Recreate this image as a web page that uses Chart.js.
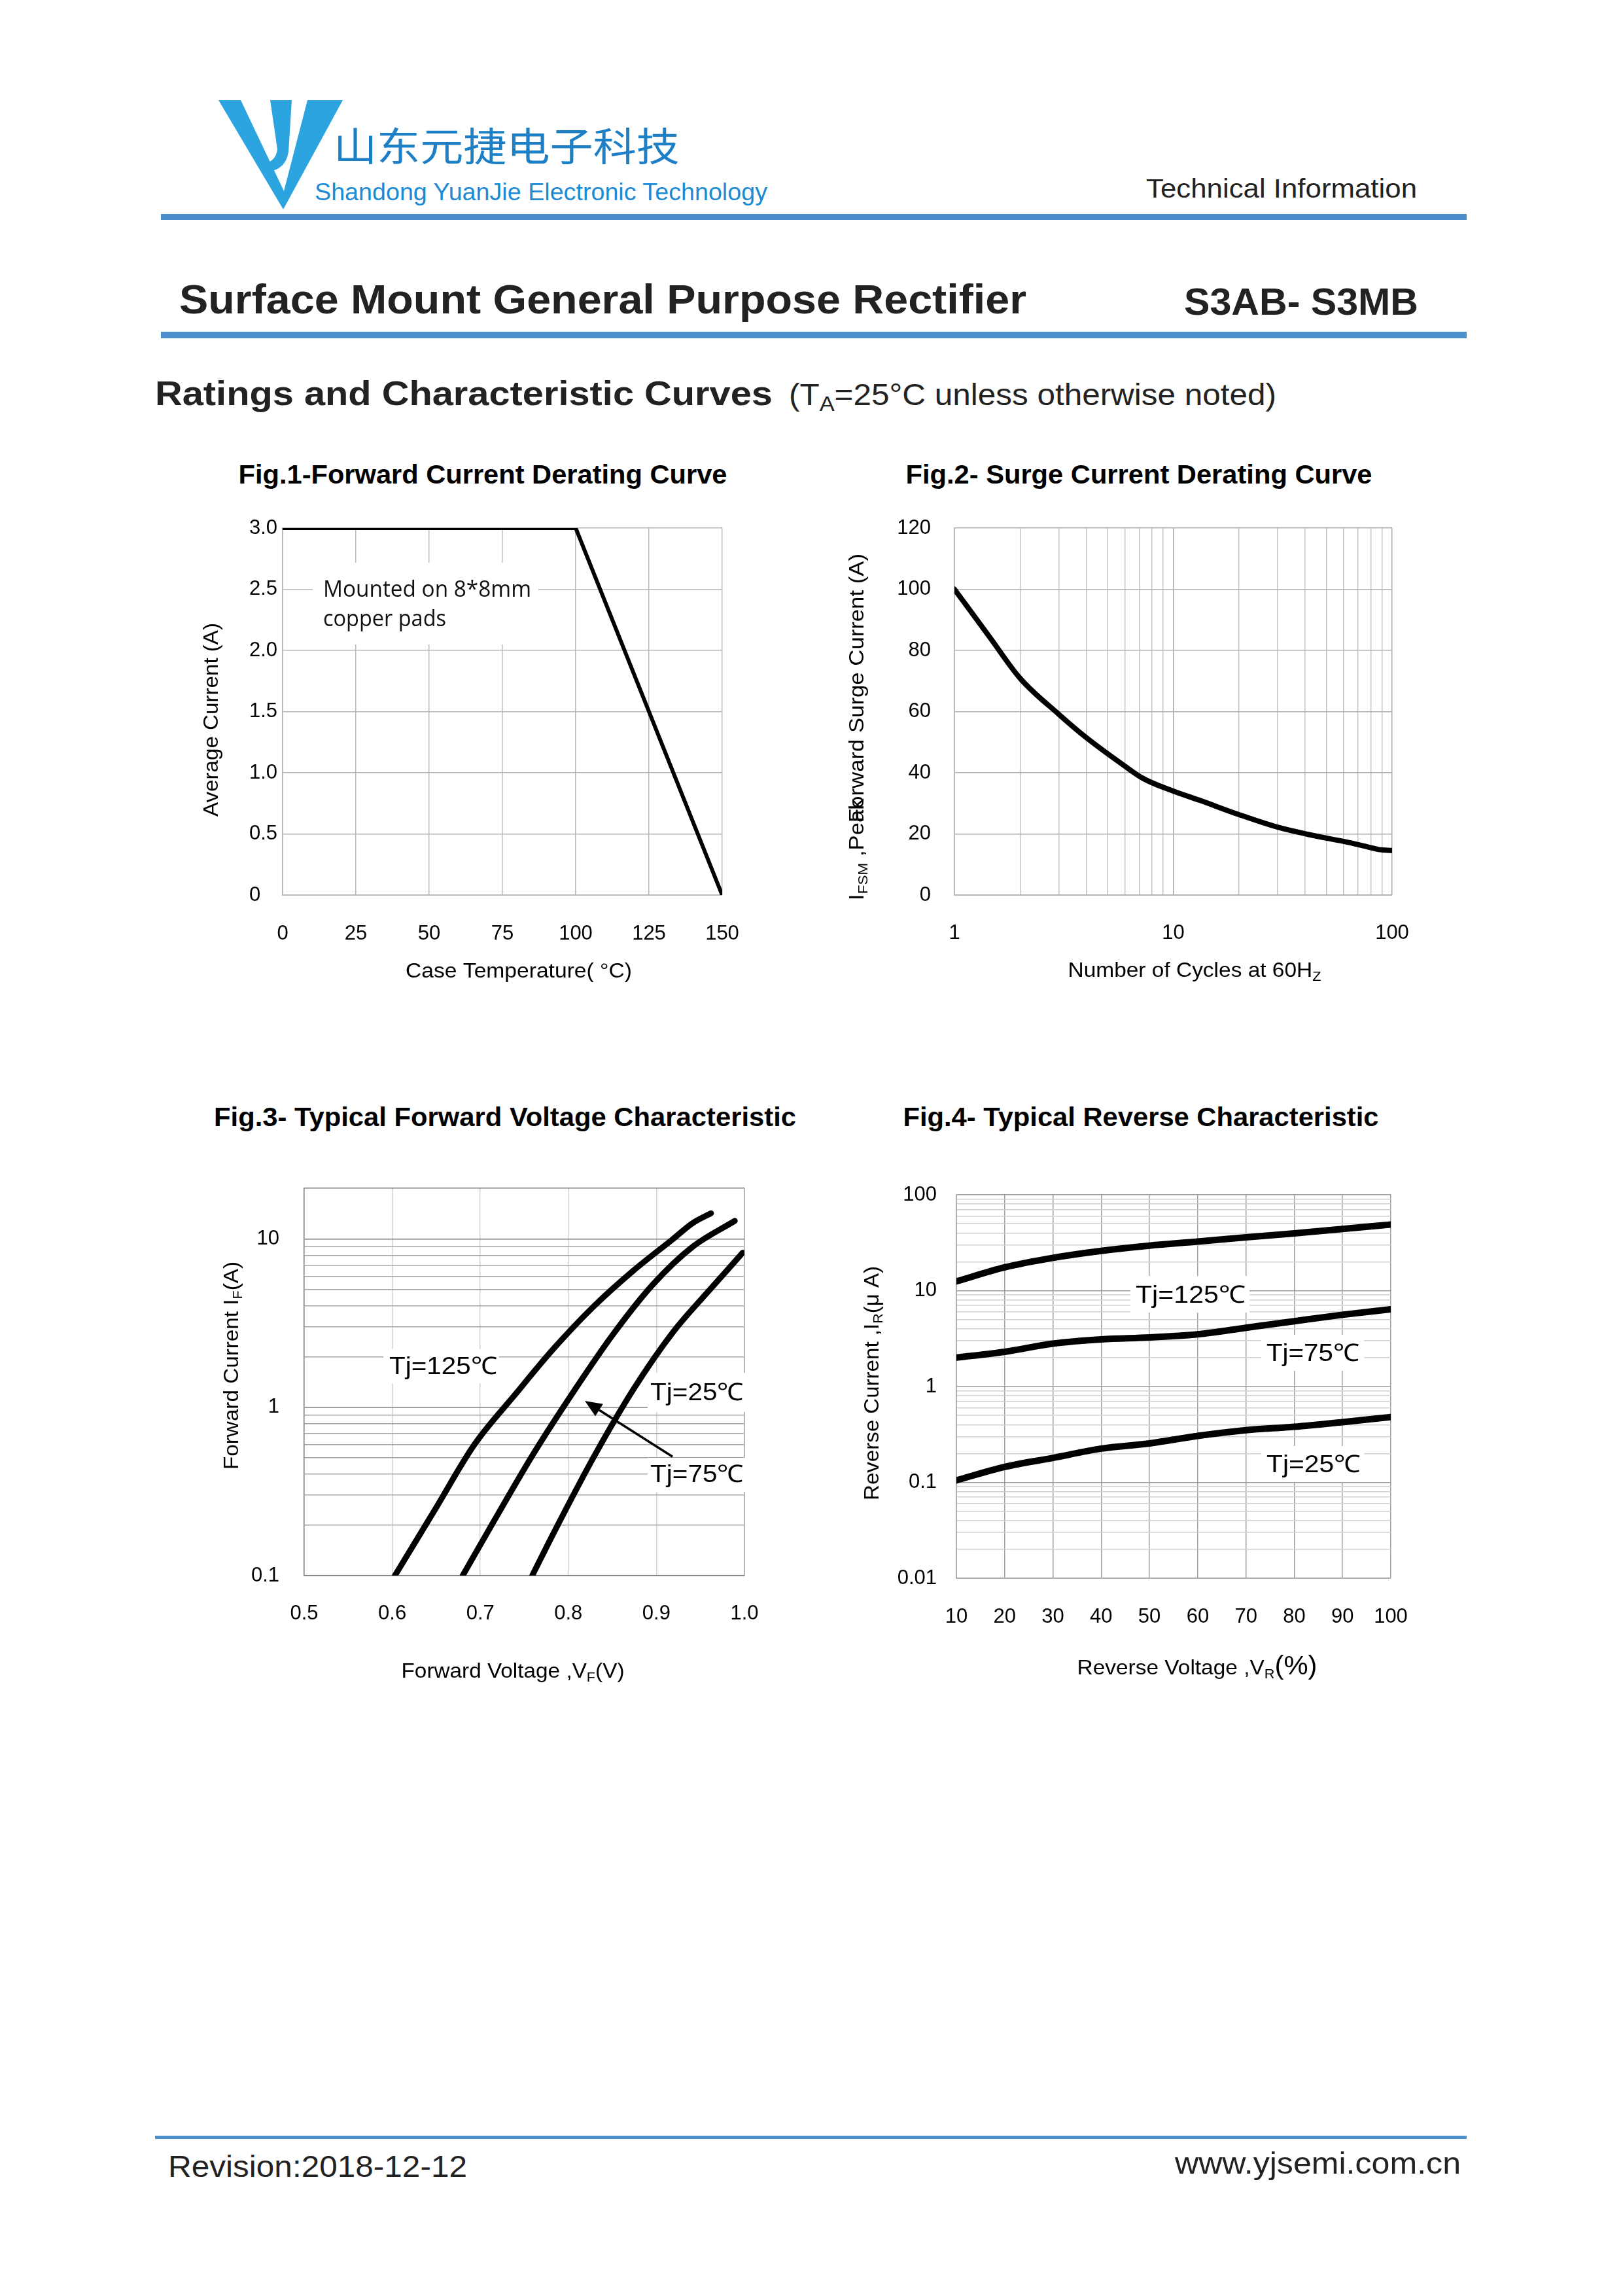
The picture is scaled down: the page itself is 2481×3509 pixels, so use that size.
<!DOCTYPE html>
<html>
<head>
<meta charset="utf-8">
<title>S3AB - S3MB curvas</title>
<script src="https://cdn.jsdelivr.net/npm/chart.js@4.4.1/dist/chart.umd.min.js"></script>
<style>
    html, body { margin: 0; padding: 0; background: #fff; }
    #page { position: relative; width: 2481px; height: 3509px; overflow: hidden; background: #fff; }
    #page svg, #page canvas { position: absolute; }
    svg text { font-family: "Liberation Sans", Arial, sans-serif; }
</style>
</head>
<body>
<div id="page">
<svg width="2481" height="3509" style="left:0;top:0">
    <!-- logo -->
    <g fill="#2ba4e0">
        <path d="M334 153 L368 153 L434 292 L470 153 L524 153 L433 320 Z"/>
        <path d="M413 153 L446 153 L441 232 Q437 258 412 262 L404 250 Q422 246 424 228 Z"/>
    </g>
    <text x="510" y="246" font-size="60" fill="#1d7fc5" textLength="529" lengthAdjust="spacingAndGlyphs" style="font-family:'Noto Sans CJK SC'">山东元捷电子科技</text>
    <text x="481" y="306" font-size="37" fill="#1d8bd3" textLength="692" lengthAdjust="spacingAndGlyphs">Shandong YuanJie Electronic Technology</text>
    <text x="2166" y="302" font-size="41" fill="#222" text-anchor="end" textLength="414" lengthAdjust="spacingAndGlyphs">Technical Information</text>
    <rect x="246" y="327" width="1996" height="9" fill="#4a8fcc"/>

    <text x="274" y="479" font-size="63" font-weight="bold" fill="#222" textLength="1295" lengthAdjust="spacingAndGlyphs">Surface Mount General Purpose Rectifier</text>
    <text x="2168" y="481" font-size="58" font-weight="bold" fill="#222" text-anchor="end" textLength="358" lengthAdjust="spacingAndGlyphs">S3AB- S3MB</text>
    <rect x="246" y="507" width="1996" height="10" fill="#4a8fcc"/>

    <text x="237" y="619" font-size="52" font-weight="bold" fill="#222" textLength="944" lengthAdjust="spacingAndGlyphs">Ratings and Characteristic Curves</text>
    <text x="1206" y="619" font-size="46" fill="#222" textLength="745" lengthAdjust="spacingAndGlyphs">(T<tspan font-size="32" dy="9">A</tspan><tspan dy="-9">=25°C unless otherwise noted)</tspan></text>

    <!-- titulos de las figuras -->
    <text x="738" y="739" font-size="41" font-weight="bold" fill="#000" text-anchor="middle" textLength="747" lengthAdjust="spacingAndGlyphs">Fig.1-Forward Current Derating Curve</text>
    <text x="1741" y="739" font-size="41" font-weight="bold" fill="#000" text-anchor="middle" textLength="713" lengthAdjust="spacingAndGlyphs">Fig.2- Surge Current Derating Curve</text>
    <text x="772" y="1721" font-size="41" font-weight="bold" fill="#000" text-anchor="middle" textLength="890" lengthAdjust="spacingAndGlyphs">Fig.3- Typical Forward Voltage Characteristic</text>
    <text x="1744" y="1721" font-size="41" font-weight="bold" fill="#000" text-anchor="middle" textLength="727" lengthAdjust="spacingAndGlyphs">Fig.4- Typical Reverse Characteristic</text>

    <!-- pie de pagina -->
    <rect x="237" y="3264" width="2005" height="5" fill="#4a8fcc"/>
    <text x="257" y="3327" font-size="46" fill="#222" textLength="457" lengthAdjust="spacingAndGlyphs">Revision:2018-12-12</text>
    <text x="2233" y="3322" font-size="46" fill="#222" text-anchor="end" textLength="437" lengthAdjust="spacingAndGlyphs">www.yjsemi.com.cn</text>
</svg>
<canvas id="fig1" width="940" height="880" style="left:260px;top:660px"></canvas>
<canvas id="fig2" width="940" height="880" style="left:1260px;top:660px"></canvas>
<canvas id="fig3" width="940" height="1000" style="left:260px;top:1640px"></canvas>
<canvas id="fig4" width="940" height="1000" style="left:1260px;top:1640px"></canvas>
</div>

<script>
// Datos

// Fig.1 derating
const fig1Temp = [0, 100, 150]
const fig1Current = [3.0, 3.0, 0]
const fig1XTicks = [0, 25, 50, 75, 100, 125, 150]
const fig1YTicks = [0, 0.5, 1.0, 1.5, 2.0, 2.5, 3.0]

// Fig.2 surge
const fig2Cycles = [1, 1.45, 2, 3, 4, 6, 7.3, 10, 13.2, 20, 30, 41, 63.5, 79, 87, 100]
const fig2Current = [100, 84.3, 70.8, 59.1, 51.5, 42.2, 38.1, 34.0, 31.0, 26.3, 22.2, 19.9, 17.2, 15.6, 14.9, 14.6]
const fig2XGrid = [1, 2, 3, 4, 5, 6, 7, 8, 9, 10, 20, 30, 40, 50, 60, 70, 80, 90, 100]
const fig2XLabels = [1, 10, 100]
const fig2YTicks = [0, 20, 40, 60, 80, 100, 120]

// Fig.3 forward voltage
const fig3V125 = [0.603, 0.648, 0.693, 0.739, 0.784, 0.829, 0.874, 0.919, 0.941, 0.962]
const fig3I125 = [0.1, 0.244, 0.597, 1.18, 2.25, 3.98, 6.49, 10.0, 12.4, 14.2]
const fig3V75 = [0.680, 0.716, 0.761, 0.806, 0.851, 0.896, 0.941, 0.989]
const fig3I75 = [0.1, 0.213, 0.536, 1.24, 2.72, 5.36, 8.97, 12.8]
const fig3V25 = [0.759, 0.784, 0.829, 0.874, 0.919, 0.964, 0.998]
const fig3I25 = [0.1, 0.182, 0.508, 1.28, 2.80, 5.22, 8.28]
const fig3XTicks = [0.5, 0.6, 0.7, 0.8, 0.9, 1.0]
const fig3YGrid = [0.1, 0.2, 0.3, 0.4, 0.5, 0.6, 0.7, 0.8, 0.9, 1, 2, 3, 4, 5, 6, 7, 8, 9, 10, 20]
const fig3YLabels = [0.1, 1, 10]

// Fig.4 reverse
const fig4Vr = [10, 20, 30, 40, 50, 60, 70, 80, 90, 100]
const fig4I125 = [12.5, 17.5, 22, 26, 29.5, 32.5, 36, 39.5, 44, 49]
const fig4I75 = [2.0, 2.3, 2.8, 3.1, 3.25, 3.5, 4.1, 4.8, 5.6, 6.4]
const fig4I25 = [0.105, 0.145, 0.18, 0.225, 0.255, 0.305, 0.35, 0.38, 0.425, 0.48]
const fig4XTicks = [10, 20, 30, 40, 50, 60, 70, 80, 90, 100]
const fig4YGrid = [0.01, 0.02, 0.03, 0.04, 0.05, 0.06, 0.07, 0.08, 0.09,
    0.1, 0.2, 0.3, 0.4, 0.5, 0.6, 0.7, 0.8, 0.9,
    1, 2, 3, 4, 5, 6, 7, 8, 9,
    10, 20, 30, 40, 50, 60, 70, 80, 90, 100]
const fig4YLabels = [0.01, 0.1, 1, 10, 100]

Chart.defaults.font.family = '"Liberation Sans", Arial, sans-serif'
Chart.defaults.color = '#000'

const XH = 80
const YW = 120
const SANS = '"Liberation Sans", Arial, sans-serif'
const TICK = 31

function findLabel(list, v) {
    return list.find(l => Math.abs(l - v) <= Math.abs(v) * 1e-6)
}

function fixTicks(list) {
    return s => { s.ticks = list.map(v => ({ value: v })) }
}

function padFor(box, area, yw) {
    return {
        left: area.l - box.x - yw,
        top: area.t - box.y,
        right: box.x + box.w - area.r,
        bottom: box.y + box.h - area.b - XH
    }
}

function pts(xs, ys) {
    return xs.map((x, i) => ({ x: x, y: ys[i] }))
}

// Texto con subindices, coordenadas de pagina (y = centro de mayusculas)
function drawRich(ctx, it, ox, oy) {
    const size = it.size || 32
    const fam = it.family || SANS
    const segs = it.segs.map(s => typeof s === 'string' ? { t: s } : Object.assign({}, s))
    let total = 0
    segs.forEach(s => {
        s.sz = s.sub ? size * 0.65 : (s.size || size)
        ctx.font = (it.bold ? 'bold ' : '') + s.sz + 'px ' + fam
        s.wd = ctx.measureText(s.t).width
        if (!s.over) total += s.wd
    })
    const sx = it.w ? it.w / total : 1
    ctx.save()
    ctx.translate(it.x - ox, it.y - oy)
    if (it.rot) ctx.rotate(it.rot)
    ctx.scale(sx, 1)
    let x = it.align === 'center' ? -total / 2 : (it.align === 'right' ? -total : 0)
    const base = size * 0.358
    ctx.fillStyle = it.color || '#000'
    ctx.textBaseline = 'alphabetic'
    ctx.textAlign = 'left'
    segs.forEach(s => {
        ctx.font = (it.bold ? 'bold ' : '') + s.sz + 'px ' + fam
        ctx.fillText(s.t, x, base + (s.sub ? size * 0.16 : 0))
        if (!s.over) x += s.wd
    })
    ctx.restore()
}

function drawArrow(chart, a) {
    const ctx = chart.ctx
    const xs = chart.scales.x, ys = chart.scales.y
    const x1 = xs.getPixelForValue(a.from[0]), y1 = ys.getPixelForValue(a.from[1])
    const x2 = xs.getPixelForValue(a.to[0]), y2 = ys.getPixelForValue(a.to[1])
    const ang = Math.atan2(y2 - y1, x2 - x1)
    const hl = 26, hw = 11
    const bx = x2 - hl * Math.cos(ang), by = y2 - hl * Math.sin(ang)
    ctx.save()
    ctx.strokeStyle = '#000'
    ctx.fillStyle = '#000'
    ctx.lineWidth = 3.5
    ctx.beginPath()
    ctx.moveTo(x1, y1)
    ctx.lineTo(bx, by)
    ctx.stroke()
    ctx.beginPath()
    ctx.moveTo(x2, y2)
    ctx.lineTo(bx + hw * Math.sin(ang), by - hw * Math.cos(ang))
    ctx.lineTo(bx - hw * Math.sin(ang), by + hw * Math.cos(ang))
    ctx.closePath()
    ctx.fill()
    ctx.restore()
}

const pageText = {
    id: 'pageText',
    beforeDatasetsDraw(chart, args, o) {
        const ctx = chart.ctx
        ctx.save()
        ctx.fillStyle = '#fff'
        ;(o.boxes || []).forEach(b => ctx.fillRect(b[0] - o.ox, b[1] - o.oy, b[2] - b[0], b[3] - b[1]))
        ctx.restore()
    },
    afterDatasetsDraw(chart, args, o) {
        (o.items || []).forEach(it => drawRich(chart.ctx, it, o.ox, o.oy))
        if (o.arrow) drawArrow(chart, o.arrow)
    }
}

function curve(data, width) {
    return {
        data: data,
        borderColor: '#000',
        borderWidth: width,
        pointRadius: 0,
        fill: false,
        cubicInterpolationMode: 'monotone',
        borderCapStyle: 'round',
        borderJoinStyle: 'round'
    }
}

const baseOpts = {
    responsive: false,
    animation: false,
    devicePixelRatio: 1,
    events: []
}

const V = -Math.PI / 2

// ---------- Fig.1 ----------
const box1 = { x: 260, y: 660, w: 940, h: 880 }
new Chart(document.getElementById('fig1'), {
    type: 'line',
    data: {
        datasets: [{
            data: pts(fig1Temp, fig1Current),
            borderColor: '#000', borderWidth: 6, pointRadius: 0, tension: 0,
            borderJoinStyle: 'miter'
        }]
    },
    options: Object.assign({}, baseOpts, {
        layout: { padding: padFor(box1, { l: 432, t: 807, r: 1104, b: 1368 }, 51) },
        scales: {
            x: {
                type: 'linear', min: 0, max: 150,
                afterBuildTicks: fixTicks(fig1XTicks),
                afterFit: s => { s.height = XH },
                ticks: { autoSkip: false, maxRotation: 0, padding: 41, font: { size: TICK } },
                grid: { color: '#b8b8b8', lineWidth: 1.5, drawTicks: false },
                border: { color: '#b0b0b0', width: 1.5 }
            },
            y: {
                type: 'linear', min: 0, max: 3,
                afterBuildTicks: fixTicks(fig1YTicks),
                afterFit: s => { s.width = 51 },
                ticks: {
                    autoSkip: false, crossAlign: 'far', padding: 0, font: { size: TICK },
                    callback: v => v === 0 ? '0' : v.toFixed(1)
                },
                grid: { color: '#b8b8b8', lineWidth: 1.5, drawTicks: false },
                border: { color: '#b0b0b0', width: 1.5 }
            }
        },
        plugins: {
            legend: { display: false }, tooltip: { enabled: false },
            pageText: {
                ox: box1.x, oy: box1.y,
                boxes: [[478, 860, 823, 985]],
                items: [
                    { segs: ['Mounted on 8*8mm'], x: 494, y: 899, size: 35, family: '"Open Sans", sans-serif', w: 318, color: '#111' },
                    { segs: ['copper pads'], x: 494, y: 944, size: 35, family: '"Open Sans", sans-serif', w: 188, color: '#111' },
                    { segs: ['Case Temperature( °C)'], x: 793, y: 1483, size: 32, align: 'center', w: 346 },
                    { segs: ['Average Current (A)'], x: 322, y: 1100, size: 32, align: 'center', rot: V, w: 296 }
                ]
            }
        }
    }),
    plugins: [pageText]
})

// ---------- Fig.2 ----------
const box2 = { x: 1260, y: 660, w: 940, h: 880 }
new Chart(document.getElementById('fig2'), {
    type: 'line',
    data: { datasets: [curve(pts(fig2Cycles, fig2Current), 8)] },
    options: Object.assign({}, baseOpts, {
        layout: { padding: padFor(box2, { l: 1459, t: 807, r: 2128, b: 1368 }, YW) },
        scales: {
            x: {
                type: 'logarithmic', min: 1, max: 100,
                afterBuildTicks: fixTicks(fig2XGrid),
                afterFit: s => { s.height = XH },
                ticks: {
                    autoSkip: false, maxRotation: 0, padding: 40, font: { size: TICK },
                    callback: v => findLabel(fig2XLabels, v) !== undefined ? String(v) : ''
                },
                grid: { color: c => c.tick && findLabel(fig2XLabels, c.tick.value) !== undefined ? '#a8a8a8' : '#c4c4c4', lineWidth: 1.5, drawTicks: false },
                border: { color: '#a8a8a8', width: 1.5 }
            },
            y: {
                type: 'linear', min: 0, max: 120,
                afterBuildTicks: fixTicks(fig2YTicks),
                afterFit: s => { s.width = YW },
                ticks: { autoSkip: false, padding: 36, font: { size: TICK } },
                grid: { color: '#b0b0b0', lineWidth: 1.5, drawTicks: false },
                border: { color: '#b0b0b0', width: 1.5 }
            }
        },
        plugins: {
            legend: { display: false }, tooltip: { enabled: false },
            pageText: {
                ox: box2.x, oy: box2.y,
                items: [
                    { segs: ['Number of Cycles at 60H', { t: 'Z', sub: true }], x: 1826, y: 1482, size: 32, align: 'center', w: 387 },
                    { segs: ['I', { t: 'FSM', sub: true }, ' ,Pe', { t: 'ak', over: true }, 'Forward Surge Current (A)'], x: 1309, y: 1111, size: 32, align: 'center', rot: V, w: 530 }
                ]
            }
        }
    }),
    plugins: [pageText]
})

// ---------- Fig.3 ----------
const box3 = { x: 260, y: 1640, w: 940, h: 1000 }
new Chart(document.getElementById('fig3'), {
    type: 'line',
    data: {
        datasets: [
            curve(pts(fig3V125, fig3I125), 9),
            curve(pts(fig3V75, fig3I75), 9),
            curve(pts(fig3V25, fig3I25), 9)
        ]
    },
    options: Object.assign({}, baseOpts, {
        layout: { padding: padFor(box3, { l: 465, t: 1816, r: 1138, b: 2408 }, YW) },
        scales: {
            x: {
                type: 'linear', min: 0.5, max: 1.0,
                afterBuildTicks: fixTicks(fig3XTicks),
                afterFit: s => { s.height = XH },
                ticks: { autoSkip: false, maxRotation: 0, padding: 40, font: { size: TICK }, callback: v => v.toFixed(1) },
                grid: { color: c => c.tick && c.tick.value > 0.99 ? '#9a9a9a' : '#d2d2d2', lineWidth: 1.5, drawTicks: false },
                border: { color: '#7a7a7a', width: 1.5 }
            },
            y: {
                type: 'logarithmic', min: 0.1, max: 20,
                afterBuildTicks: fixTicks(fig3YGrid),
                afterFit: s => { s.width = YW },
                ticks: {
                    autoSkip: false, padding: 38, font: { size: TICK },
                    callback: v => findLabel(fig3YLabels, v) !== undefined ? String(v) : ''
                },
                grid: {
                    color: c => c.tick && (findLabel(fig3YLabels, c.tick.value) !== undefined || c.tick.value === 20) ? '#7a7a7a' : '#a4a4a4',
                    lineWidth: 1.5, drawTicks: false
                },
                border: { color: '#7a7a7a', width: 1.5 }
            }
        },
        plugins: {
            legend: { display: false }, tooltip: { enabled: false },
            pageText: {
                ox: box3.x, oy: box3.y,
                boxes: [[586, 2062, 763, 2114], [990, 2098, 1145, 2158], [990, 2228, 1145, 2280]],
                items: [
                    { segs: ['Tj=125℃'], x: 595, y: 2087, size: 37, w: 165 },
                    { segs: ['Tj=25℃'], x: 994, y: 2127, size: 37, w: 143 },
                    { segs: ['Tj=75℃'], x: 994, y: 2252, size: 37, w: 143 },
                    { segs: ['Forward Voltage ,V', { t: 'F', sub: true }, '(V)'], x: 784, y: 2553, size: 32, align: 'center', w: 341 },
                    { segs: ['Forward Current I', { t: 'F', sub: true }, '(A)'], x: 353, y: 2087, size: 32, align: 'center', rot: V, w: 318 }
                ],
                arrow: { from: [0.9183, 0.509], to: [0.8187, 1.09] }
            }
        }
    }),
    plugins: [pageText]
})

// ---------- Fig.4 ----------
const box4 = { x: 1260, y: 1640, w: 940, h: 1000 }
new Chart(document.getElementById('fig4'), {
    type: 'line',
    data: {
        datasets: [
            curve(pts(fig4Vr, fig4I125), 10),
            curve(pts(fig4Vr, fig4I75), 10),
            curve(pts(fig4Vr, fig4I25), 10)
        ]
    },
    options: Object.assign({}, baseOpts, {
        layout: { padding: padFor(box4, { l: 1462, t: 1826, r: 2126, b: 2412 }, YW) },
        scales: {
            x: {
                type: 'linear', min: 10, max: 100,
                afterBuildTicks: fixTicks(fig4XTicks),
                afterFit: s => { s.height = XH },
                ticks: { autoSkip: false, maxRotation: 0, padding: 41, font: { size: TICK } },
                grid: { color: '#a0a0a0', lineWidth: 1.5, drawTicks: false },
                border: { color: '#a0a0a0', width: 1.5 }
            },
            y: {
                type: 'logarithmic', min: 0.01, max: 100,
                afterBuildTicks: fixTicks(fig4YGrid),
                afterFit: s => { s.width = YW },
                ticks: {
                    autoSkip: false, padding: 30, font: { size: TICK },
                    callback: v => findLabel(fig4YLabels, v) !== undefined ? String(v) : ''
                },
                grid: {
                    color: c => c.tick && findLabel(fig4YLabels, c.tick.value) !== undefined ? '#9a9a9a' : '#d0d0d0',
                    lineWidth: 1.5, drawTicks: false
                },
                border: { color: '#a0a0a0', width: 1.5 }
            }
        },
        plugins: {
            legend: { display: false }, tooltip: { enabled: false },
            pageText: {
                ox: box4.x, oy: box4.y,
                boxes: [[1728, 1950, 1910, 2006], [1928, 2040, 2085, 2095], [1928, 2210, 2085, 2265]],
                items: [
                    { segs: ['Tj=125℃'], x: 1736, y: 1978, size: 37, w: 168 },
                    { segs: ['Tj=75℃'], x: 1936, y: 2067, size: 37, w: 142 },
                    { segs: ['Tj=25℃'], x: 1936, y: 2237, size: 37, w: 144 },
                    { segs: ['Reverse Voltage ,V', { t: 'R', sub: true }, { t: '(%)', size: 40 }], x: 1830, y: 2548, size: 32, align: 'center', w: 367 },
                    { segs: ['Reverse Current ,I', { t: 'R', sub: true }, '(μ A)'], x: 1332, y: 2114, size: 32, align: 'center', rot: V, w: 358 }
                ]
            }
        }
    }),
    plugins: [pageText]
})
</script>
</body>
</html>
